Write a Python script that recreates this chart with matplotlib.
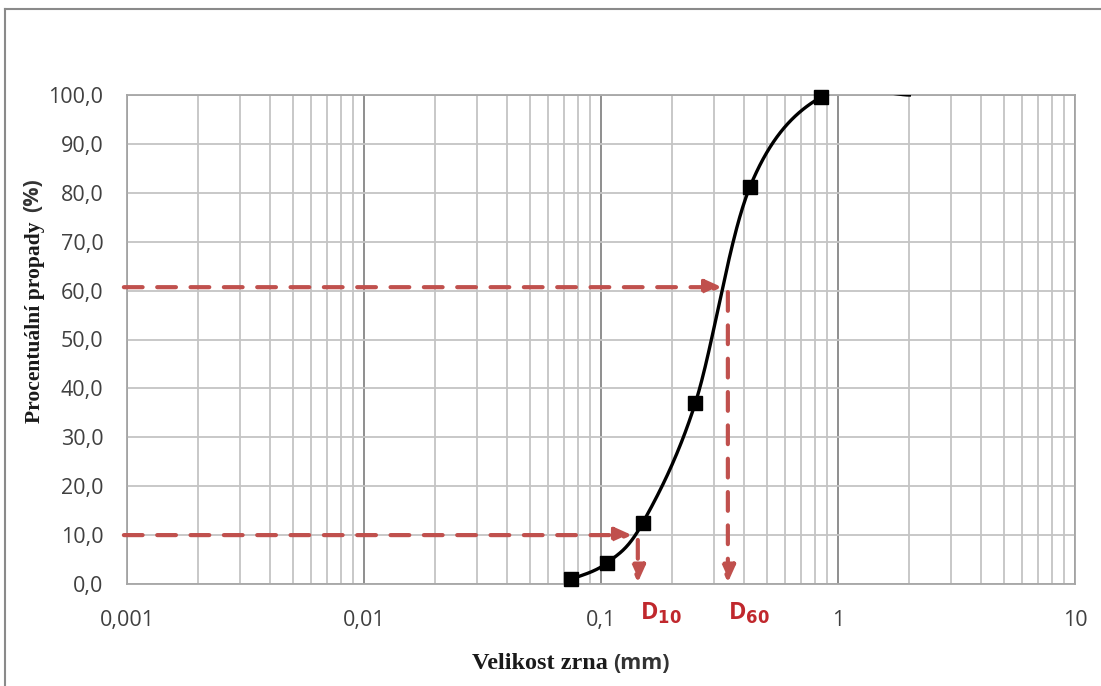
import numpy as np
import matplotlib
matplotlib.use("Agg")
import matplotlib.pyplot as plt
from matplotlib.lines import Line2D

# ---- data ----
grain_size = [0.075, 0.106, 0.150, 0.250, 0.425, 0.850, 2.0]
passing = [1.0, 4.3, 12.5, 37.0, 81.2, 99.6, 100.0]
marker_count = 6
y_ticks = [0, 10, 20, 30, 40, 50, 60, 70, 80, 90, 100]
x_ticks = [0.001, 0.01, 0.1, 1, 10]
x_tick_labels = ["0,001", "0,01", "0,1", "1", "10"]
d10 = 0.143
d60 = 0.343
d10_level = 10.0
d60_level = 60.7

W, H = 1101, 686
fig = plt.figure(figsize=(W / 100, H / 100), dpi=100)
ax = fig.add_axes([127 / W, 1 - 584 / H, (1075 - 127) / W, (584 - 95) / H])

ax.set_xscale("log")
ax.set_xlim(0.001, 10)
ax.set_ylim(0, 100)

# grid
ax.set_xticks(x_ticks)
ax.set_xticklabels(x_tick_labels)
ax.set_yticks(y_ticks)
ax.set_yticklabels([f"{v:.1f}".replace(".", ",") for v in y_ticks])
ax.xaxis.set_minor_locator(matplotlib.ticker.LogLocator(base=10, subs=np.arange(2, 10)))
ax.xaxis.set_minor_formatter(matplotlib.ticker.NullFormatter())
ax.grid(True, which="major", axis="x", color="#868686", lw=1.3)
ax.grid(True, which="minor", axis="x", color="#c4c4c4", lw=1.3)
ax.grid(True, which="major", axis="y", color="#c4c4c4", lw=1.3)
ax.set_axisbelow(True)
for s in ax.spines.values():
    s.set_color("#a6a6a6")
    s.set_linewidth(1.3)
ax.tick_params(axis="both", which="both", length=0, colors="#404040", labelsize=15.5)
ax.tick_params(axis="x", pad=19)
ax.tick_params(axis="y", pad=17)
for lab in ax.get_xticklabels() + ax.get_yticklabels():
    lab.set_fontfamily("Open Sans")

# smooth curve (Catmull-Rom in display-like space)
u = np.log10(grain_size) * 237.0
v = np.array(passing) * 4.89
P = np.column_stack([u, v])
Pe = np.vstack([P[0], P, P[-1]])
pts = []
for i in range(1, len(Pe) - 2):
    p0, p1, p2, p3 = Pe[i - 1], Pe[i], Pe[i + 1], Pe[i + 2]
    c1 = p1 + (p2 - p0) / 6.0
    c2 = p2 - (p3 - p1) / 6.0
    t = np.linspace(0, 1, 60)[:, None]
    seg = (1 - t) ** 3 * p1 + 3 * (1 - t) ** 2 * t * c1 + 3 * (1 - t) * t ** 2 * c2 + t ** 3 * p2
    pts.append(seg)
pts = np.vstack(pts)
xs = 10 ** (pts[:, 0] / 237.0)
ys = pts[:, 1] / 4.89
ax.plot(xs, ys, color="black", lw=2.4, zorder=4)
ax.plot(grain_size[:marker_count], passing[:marker_count], ls="none", marker="s",
        ms=9.5, color="black", zorder=5, clip_on=False)

# D10 / D60 arrows
red = "#c0504d"
astyle = "-|>,head_length=1.0,head_width=0.45"
for level, d in [(d10_level, d10), (d60_level, d60)]:
    ax.annotate("", xy=(d * 0.945, level), xytext=(0.00097, level),
                arrowprops=dict(arrowstyle=astyle, color=red, lw=3.0,
                                linestyle=(0, (4.5, 3.5)), shrinkA=0, shrinkB=0),
                annotation_clip=False, zorder=3)
    ax.annotate("", xy=(d, 0.3), xytext=(d, level - 1.0),
                arrowprops=dict(arrowstyle=astyle, color=red, lw=3.0,
                                linestyle=(0, (4.5, 3.5)), shrinkA=0, shrinkB=0),
                annotation_clip=False, zorder=3)

lab_red = "#c0282d"
ax.text(d10 * 1.02, -3.5, r"D$_{\mathbf{10}}$", color=lab_red, fontsize=17, fontweight="bold",
        ha="left", va="top", fontfamily="Open Sans")
ax.text(d60 * 1.0, -3.5, r"D$_{\mathbf{60}}$", color=lab_red, fontsize=17, fontweight="bold",
        ha="left", va="top", fontfamily="Open Sans")

# axis labels (serif words + sans units, as in the original)
txt = "#1a1a1a"
fig.text(608 / W, 1 - 669 / H, "Velikost zrna", ha="right", va="baseline",
         fontsize=17.5, fontweight="bold", fontfamily="Liberation Serif", color=txt)
fig.text(613 / W, 1 - 669 / H, "(mm)", ha="left", va="baseline",
         fontsize=15.5, fontweight="bold", fontfamily="Open Sans", color="#333333")
fig.text(40 / W, 1 - 423 / H, "Procentuální propady", ha="left", va="baseline",
         rotation=90, rotation_mode="anchor", fontsize=15.5, fontweight="bold",
         fontfamily="Liberation Serif", color=txt)
fig.text(33 / W, 1 - 195 / H, "(%)", ha="center", va="center",
         rotation=90, fontsize=15.5, fontweight="bold", fontfamily="Open Sans", color="#333333")

# outer chart border (top and left visible)
fig.add_artist(Line2D([4.5 / W, 4.5 / W], [0, 1 - 9 / H], transform=fig.transFigure,
                      color="#8a8a8a", lw=1.5))
fig.add_artist(Line2D([4.5 / W, 1], [1 - 9 / H, 1 - 9 / H], transform=fig.transFigure,
                      color="#8a8a8a", lw=1.5))

fig.savefig("out.png", dpi=100, facecolor="white")
